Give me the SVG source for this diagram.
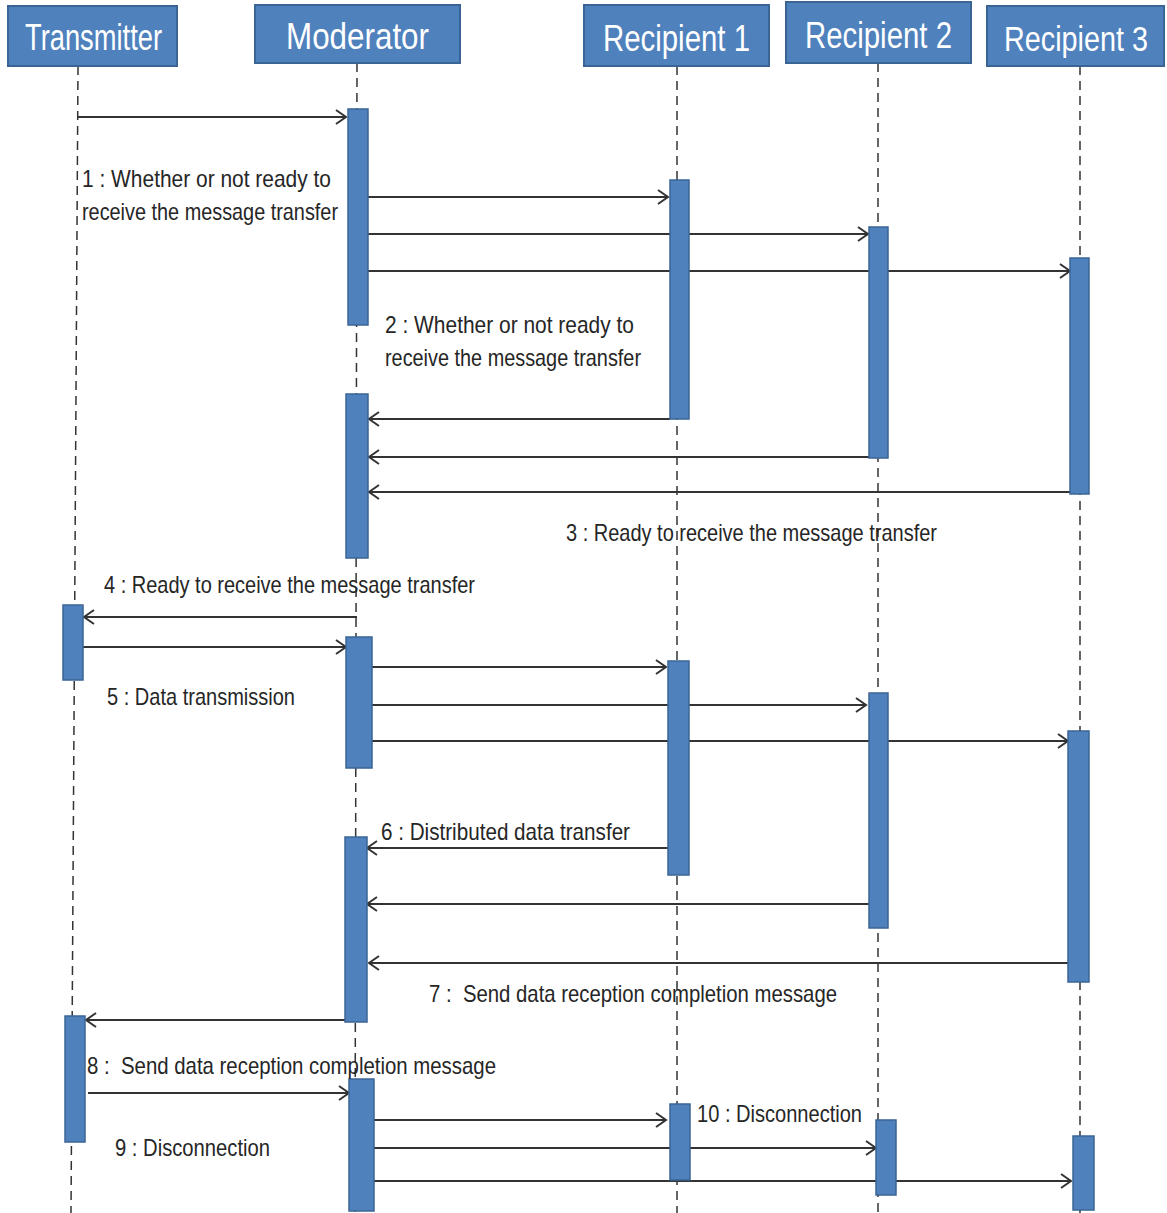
<svg xmlns="http://www.w3.org/2000/svg" width="1167" height="1213" viewBox="0 0 1167 1213">
<style>
.hdr{fill:#4F81BD;stroke:#3B6496;stroke-width:2}
.hdt{fill:#FFFFFF;font-family:"Liberation Sans",Arial,sans-serif;font-size:36px}
.bar{fill:#4F81BD;stroke:#3B6496;stroke-width:1.5}
.life{stroke:#333;stroke-width:1.5;stroke-dasharray:9,6;fill:none}
.msg{stroke:#333;stroke-width:2;fill:none;marker-end:url(#arr)}
.lbl{fill:#262626;font-family:"Liberation Sans",Arial,sans-serif;font-size:24px}
</style>
<defs>
<marker id="arr" markerUnits="userSpaceOnUse" markerWidth="14" markerHeight="18" refX="11" refY="8" orient="auto">
<path d="M1,1 L11,8 L1,15" fill="none" stroke="#333" stroke-width="2"/>
</marker>
</defs>
<rect width="1167" height="1213" fill="#FFFFFF"/>
<g id="lifelines">
<line class="life" x1="78" y1="66" x2="71" y2="1213"/>
<line class="life" x1="357" y1="63" x2="355" y2="1213"/>
<line class="life" x1="677" y1="66" x2="677" y2="1213"/>
<line class="life" x1="878" y1="63" x2="878" y2="1213"/>
<line class="life" x1="1080" y1="66" x2="1080" y2="1213"/>
</g>
<g id="connectors">
<line class="msg" x1="78" y1="117" x2="346" y2="117"/>
<line class="msg" x1="368" y1="197" x2="668" y2="197"/>
<line class="msg" x1="368" y1="234" x2="868" y2="234"/>
<line class="msg" x1="368" y1="271" x2="1070" y2="271"/>
<line class="msg" x1="670" y1="419" x2="369" y2="419"/>
<line class="msg" x1="869" y1="457" x2="369" y2="457"/>
<line class="msg" x1="1070" y1="492" x2="369" y2="492"/>
<line class="msg" x1="357" y1="617" x2="84" y2="617"/>
<line class="msg" x1="80" y1="647" x2="346" y2="647"/>
<line class="msg" x1="372" y1="667" x2="666" y2="667"/>
<line class="msg" x1="372" y1="705" x2="866" y2="705"/>
<line class="msg" x1="372" y1="741" x2="1068" y2="741"/>
<line class="msg" x1="668" y1="848" x2="367" y2="848"/>
<line class="msg" x1="869" y1="904" x2="367" y2="904"/>
<line class="msg" x1="1068" y1="963" x2="369" y2="963"/>
<line class="msg" x1="345" y1="1020" x2="86" y2="1020"/>
<line class="msg" x1="88" y1="1093" x2="349" y2="1093"/>
<line class="msg" x1="374" y1="1120" x2="666" y2="1120"/>
<line class="msg" x1="374" y1="1148" x2="876" y2="1148"/>
<line class="msg" x1="374" y1="1181" x2="1071" y2="1181"/>
</g>
<g id="transmitter">
<rect class="hdr" x="8" y="6" width="169" height="60"/>
<text class="hdt" x="25" y="50" textLength="137" lengthAdjust="spacingAndGlyphs">Transmitter</text>
<rect class="bar" x="63" y="605" width="20" height="75"/>
<rect class="bar" x="65" y="1016" width="20" height="126"/>
</g>
<g id="moderator">
<rect class="hdr" x="255" y="5" width="205" height="58"/>
<text class="hdt" x="286" y="49" textLength="143" lengthAdjust="spacingAndGlyphs">Moderator</text>
<rect class="bar" x="348" y="109" width="20" height="216"/>
<rect class="bar" x="346" y="394" width="22" height="164"/>
<rect class="bar" x="346" y="637" width="26" height="131"/>
<rect class="bar" x="345" y="837" width="22" height="185"/>
<rect class="bar" x="349" y="1079" width="25" height="132"/>
</g>
<g id="recipient1">
<rect class="hdr" x="584" y="5" width="185" height="61"/>
<text class="hdt" x="603" y="51" textLength="147" lengthAdjust="spacingAndGlyphs">Recipient 1</text>
<rect class="bar" x="670" y="180" width="19" height="239"/>
<rect class="bar" x="668" y="661" width="21" height="214"/>
<rect class="bar" x="670" y="1104" width="20" height="76"/>
</g>
<g id="recipient2">
<rect class="hdr" x="786" y="2" width="185" height="61"/>
<text class="hdt" x="805" y="48" textLength="147" lengthAdjust="spacingAndGlyphs">Recipient 2</text>
<rect class="bar" x="869" y="227" width="19" height="231"/>
<rect class="bar" x="869" y="693" width="19" height="235"/>
<rect class="bar" x="876" y="1120" width="20" height="75"/>
</g>
<g id="recipient3">
<rect class="hdr" x="987" y="6" width="177" height="60"/>
<text class="hdt" transform="translate(1004,51) scale(0.8,1)" x="0" y="0" textLength="180" lengthAdjust="spacingAndGlyphs">Recipient 3</text>
<rect class="bar" x="1070" y="258" width="19" height="236"/>
<rect class="bar" x="1068" y="731" width="21" height="251"/>
<rect class="bar" x="1073" y="1136" width="21" height="74"/>
</g>
<g id="labels">
<text class="lbl" x="82" y="187" textLength="249" lengthAdjust="spacingAndGlyphs">1 : Whether or not ready to</text>
<text class="lbl" x="82" y="220" textLength="256" lengthAdjust="spacingAndGlyphs">receive the message transfer</text>
<text class="lbl" x="385" y="333" textLength="249" lengthAdjust="spacingAndGlyphs">2 : Whether or not ready to</text>
<text class="lbl" x="385" y="366" textLength="256" lengthAdjust="spacingAndGlyphs">receive the message transfer</text>
<text class="lbl" x="566" y="541" textLength="371" lengthAdjust="spacingAndGlyphs">3 : Ready to receive the message transfer</text>
<text class="lbl" x="104" y="593" textLength="371" lengthAdjust="spacingAndGlyphs">4 : Ready to receive the message transfer</text>
<text class="lbl" x="107" y="705" textLength="188" lengthAdjust="spacingAndGlyphs">5 : Data transmission</text>
<text class="lbl" x="381" y="840" textLength="249" lengthAdjust="spacingAndGlyphs">6 : Distributed data transfer</text>
<text class="lbl" x="429" y="1002" textLength="408" lengthAdjust="spacingAndGlyphs" xml:space="preserve">7 :  Send data reception completion message</text>
<text class="lbl" x="87" y="1074" textLength="409" lengthAdjust="spacingAndGlyphs" xml:space="preserve">8 :  Send data reception completion message</text>
<text class="lbl" x="115" y="1156" textLength="155" lengthAdjust="spacingAndGlyphs">9 : Disconnection</text>
<text class="lbl" x="697" y="1122" textLength="165" lengthAdjust="spacingAndGlyphs">10 : Disconnection</text>
</g>
</svg>
